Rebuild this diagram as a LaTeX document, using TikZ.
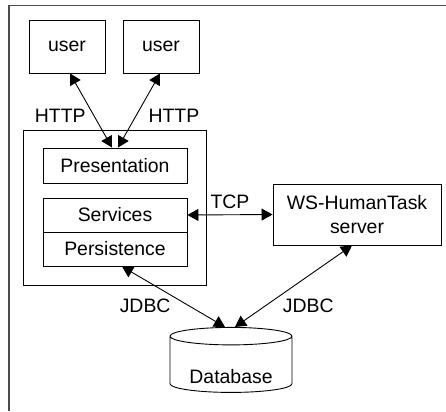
\documentclass[tikz,border=0pt]{standalone}
\usepackage{fontspec}
\setmainfont{Liberation Sans}
\usetikzlibrary{arrows.meta,shapes.geometric}

\tikzset{
  box/.style={draw, line width=0.9bp, inner sep=0pt, font=\fontsize{19.5}{25}\selectfont},
  lbl/.style={inner sep=0pt, font=\fontsize{19.5}{25}\selectfont},
  link/.style={<->, >={Triangle[length=11bp,width=12bp]}, line width=0.9bp},
}

\begin{document}
\begin{tikzpicture}[x=1bp,y=-1bp]
	\useasboundingbox (0,0) rectangle (446,411);
	% frame
	\draw[line width=1.6bp, black!70] (9,411) -- (9,5.5) -- (446,5.5);
	% clients
	\node[box, minimum width=76bp, minimum height=53bp] (user1) at (67,46.5) {user};
	\node[box, minimum width=76bp, minimum height=53bp] (user2) at (161,46.5) {user};
	% application
	\node[box, minimum width=183bp, minimum height=155bp] (app) at (114.5,207.5) {};
	\node[box, minimum width=144bp, minimum height=35bp] (pres) at (115,165.5) {Presentation};
	\node[box, minimum width=144bp, minimum height=34bp] (serv) at (115,215) {Services};
	\node[box, minimum width=144bp, minimum height=34bp] (pers) at (115,249) {Persistence};
	% task server and database
	\node[box, minimum width=168bp, minimum height=61bp, align=center] (ws) at (357,214.5) {WS-HumanTask\\server};
	\node[box, cylinder, shape border rotate=90, aspect=0.21, minimum width=122bp, minimum height=65bp] (db) at (231,364.5) {\raisebox{-19bp}[0pt][0pt]{Database}};
	% connections
	\draw[link] ([xshift=3bp]user1.south) -- node[lbl, pos=0.57, left=7.8bp] {HTTP} ([xshift=-3bp]pres.north);
	\draw[link] ([xshift=-1bp]user2.south) -- node[lbl, pos=0.57, right=12bp] {HTTP} ([xshift=3bp]pres.north);
	\draw[link] (serv.east) -- node[lbl, above=6bp] {TCP} (ws.west);
	\draw[link] ([xshift=7bp]pers.south) -- node[lbl, pos=0.65, left=18bp] {JDBC} ([xshift=-6bp]db.top);
	\draw[link] ([xshift=-5bp]ws.south) -- node[lbl, pos=0.74, right=17bp] {JDBC} ([xshift=4bp]db.top);
\end{tikzpicture}
\end{document}
